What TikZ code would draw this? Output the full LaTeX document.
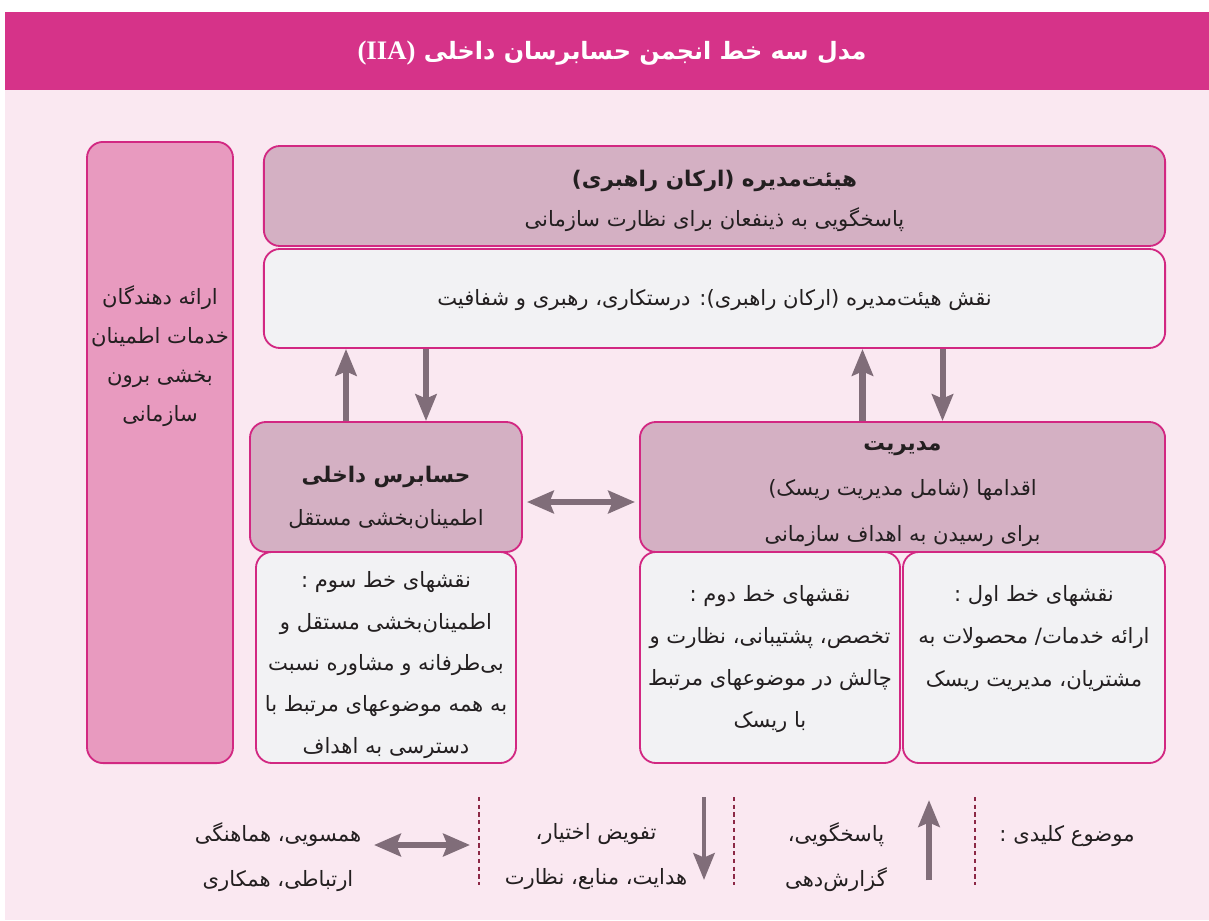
\documentclass[tikz,border=0pt]{standalone}
\usepackage{fontspec}
\usepackage{tikz}
\usetikzlibrary{positioning}
\usetikzlibrary{arrows.meta}
\TeXXeTstate=1
\newfontfamily\fafont[Script=Arabic]{DejaVu Sans}
\newfontfamily\latinfont{Liberation Serif}
\newcommand{\fa}[1]{{\fafont\beginR #1\endR}}
\newcommand{\fab}[1]{{\fafont\bfseries\fontsize{15.3}{30}\selectfont\beginR #1\endR}}
\definecolor{headcol}{RGB}{214,51,137}
\definecolor{bgcol}{RGB}{250,232,241}
\definecolor{edgecol}{RGB}{210,40,130}
\definecolor{sidefill}{RGB}{232,154,191}
\definecolor{headfill}{RGB}{212,176,195}
\definecolor{rolefill}{RGB}{242,242,244}
\definecolor{arrowcol}{RGB}{128,109,121}
\definecolor{textcol}{RGB}{35,31,32}
\definecolor{sepcol}{RGB}{140,40,70}
\tikzset{>=latex}
\tikzset{
  box/.style={draw=edgecol, line width=1.3pt, rounded corners=0.4cm, inner sep=0pt},
  headbox/.style={box, fill=headfill},
  rolebox/.style={box, fill=rolefill},
  txt/.style={align=center, text=textcol, inner sep=0pt,
    font=\fafont\fontsize{15}{30}\selectfont},
  flow/.style={draw=arrowcol, line width=4.3pt, -{Stealth[length=19pt,width=15pt,inset=3pt]}},
  flowboth/.style={draw=arrowcol, line width=4.3pt,
    {Stealth[length=19pt,width=16pt,inset=3pt]}-{Stealth[length=19pt,width=16pt,inset=3pt]}},
  sepline/.style={draw=sepcol, line width=0.8pt, dash pattern=on 3pt off 2.5pt},
}

\begin{document}
\begin{tikzpicture}[x=0.025cm,y=-0.025cm]
\useasboundingbox (0,0) rectangle (1209,920);

% ================= Background and title =================
\fill[bgcol] (5,90) rectangle (1209,920);
\fill[headcol] (5,12) rectangle (1209,90);
\node[text=white, font=\fafont\bfseries\fontsize{17}{24}\selectfont] (title) at (612,53)
  {\beginR مدل سه خط انجمن حسابرسان داخلی \beginL{\latinfont\bfseries\fontsize{19}{24}\selectfont(IIA)}\endL\endR};

% ================= External assurance =================
\node[box, fill=sidefill, minimum width=3.65cm, minimum height=15.525cm] (ext) at (160,452.5) {};
\node[txt, font=\fafont\fontsize{15}{27.7}\selectfont] (exttext) at (160,356)
  {\fa{ارائه دهندگان}\\\fa{خدمات اطمینان}\\\fa{بخشی برون}\\\fa{سازمانی}};

% ================= Governing body =================
\node[headbox, minimum width=22.525cm, minimum height=2.5cm] (board) at (714.5,196) {};
\node[txt, font=\fafont\fontsize{15}{28.4}\selectfont] (boardtext) at (714.5,200.5)
  {\fab{هیئت^^^^200cمدیره (ارکان راهبری)}\\\fa{پاسخگویی به ذینفعان برای نظارت سازمانی}};
\node[rolebox, minimum width=22.525cm, minimum height=2.475cm] (role) at (714.5,298.5) {};
\node[txt] (roletext) at (714.5,300)
  {\fa{نقش هیئت^^^^200cمدیره (ارکان راهبری): درستکاری، رهبری و شفافیت}};

% ================= Lower roles =================
\node[rolebox, minimum width=6.5cm, minimum height=5.275cm] (third) at (386,657.5) {};
\node[txt, font=\fafont\fontsize{15}{29.4}\selectfont] (thirdtext) at (386,665)
  {\fa{نقشهای خط سوم :}\\\fa{اطمینان^^^^200cبخشی مستقل و}\\\fa{بی^^^^200cطرفانه و مشاوره نسبت}\\\fa{به همه موضوعهای مرتبط با}\\\fa{دسترسی به اهداف}};
\node[rolebox, minimum width=6.5cm, minimum height=5.275cm] (second) at (770,657.5) {};
\node[txt] (secondtext) at (770,659)
  {\fa{نقشهای خط دوم :}\\\fa{تخصص، پشتیبانی، نظارت و}\\\fa{چالش در موضوعهای مرتبط}\\\fa{با ریسک}};
\node[rolebox, minimum width=6.55cm, minimum height=5.275cm] (first) at (1034,657.5) {};
\node[txt] (firsttext) at (1034,638.5)
  {\fa{نقشهای خط اول :}\\\fa{ارائه خدمات/ محصولات به}\\\fa{مشتریان، مدیریت ریسک}};

% ================= Internal audit and management =================
\node[headbox, minimum width=6.8cm, minimum height=3.25cm] (audit) at (386,487) {};
\node[txt] (audittext) at (386,497.5)
  {\fab{حسابرس داخلی}\\\fa{اطمینان^^^^200cبخشی مستقل}};
\node[headbox, minimum width=13.125cm, minimum height=3.25cm] (mgmt) at (902.5,487) {};
\node[txt, font=\fafont\fontsize{15}{32.3}\selectfont] (mgmttext) at (902.5,494)
  {\fab{مدیریت}\\\fa{اقدامها (شامل مدیریت ریسک)}\\\fa{برای رسیدن به اهداف سازمانی}};

% ================= Arrows =================
\draw[flow] ([xshift=-1cm]audit.north) -- ([xshift=-1cm]audit.north |- role.south);
\draw[flow] ([xshift=1cm]audit.north |- role.south) -- ([xshift=1cm]audit.north);
\draw[flow] ([xshift=-1cm]mgmt.north) -- ([xshift=-1cm]mgmt.north |- role.south);
\draw[flow] ([xshift=1cm]mgmt.north |- role.south) -- ([xshift=1cm]mgmt.north);
\draw[flowboth, shorten <=0.1cm, shorten >=0.1cm]
  ([yshift=-0.375cm]audit.east) -- ([yshift=-0.375cm]mgmt.west);

% ================= Key =================
\foreach \x in {479,734,975}{
  \draw[sepline] (\x,797) -- (\x,885);
}
\node[txt] (keyword) at (1067,836) {\fa{موضوع کلیدی :}};
\node[txt, font=\fafont\fontsize{15}{32}\selectfont] (keyup) at (836,857)
  {\fa{پاسخگویی،}\\\fa{گزارش^^^^200cدهی}};
\node[txt, font=\fafont\fontsize{15}{32}\selectfont] (keydown) at (596,857)
  {\fa{تفویض اختیار،}\\\fa{هدایت، منابع، نظارت}};
\node[txt, font=\fafont\fontsize{15}{32}\selectfont] (keyboth) at (278,857)
  {\fa{همسویی، هماهنگی}\\\fa{ارتباطی، همکاری}};
\coordinate (upfoot) at (929,880);
\coordinate (uptip) at (929,800);
\coordinate (dnfoot) at (704,797);
\coordinate (dntip) at (704,880);
\coordinate (bothr) at (470,845);
\coordinate (bothl) at (374,845);
\draw[flow] (upfoot) -- (uptip);
\draw[flow, line width=3.5pt] (dnfoot) -- (dntip);
\draw[flowboth] (bothl) -- (bothr);
\end{tikzpicture}
\end{document}
